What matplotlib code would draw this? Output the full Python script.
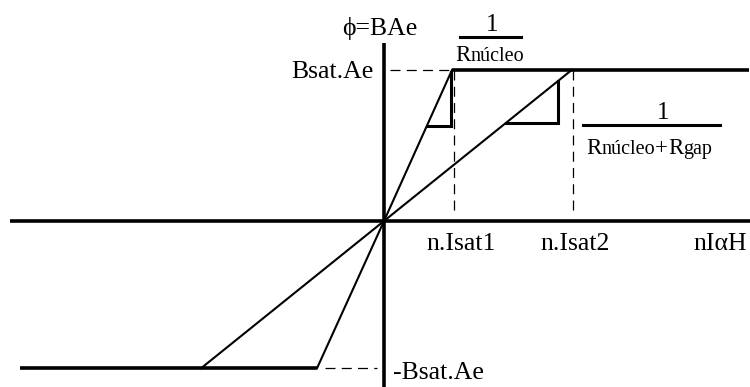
#!/usr/bin/env python3

"""
Curva de magnetizacion idealizada: nucleo sin gap vs nucleo con gap.
Flujo phi = B.Ae en funcion de la fuerza magnetomotriz n.I
"""

import matplotlib
matplotlib.use("Agg")
import matplotlib.pyplot as plt

# Valores normalizados (Isat1 = 1, Bsat.Ae = 1)
isat_pos = [1.0, 2.76]          # n.Isat1 (nucleo), n.Isat2 (nucleo + gap)
isat_neg = [-0.985, -2.69]      # codos en la rama negativa
bsat_pos = 1.0
bsat_neg = -0.975
h_min, h_max = -5.35, 5.37      # extremos de las rectas de saturacion

# Triangulos de pendiente: abscisa del cateto vertical y altura de la base
tri_x = [0.985, 2.56]
tri_base = [0.629, 0.649]

# Lineas de referencia punteadas
dash_x = [1.03, 2.78]

x_labels = ["n.Isat1", "n.Isat2"]

SERIF = ["Liberation Serif", "DejaVu Serif"]


def rich_text(fig, ax, x, y, parts):
    """Escribe varios trozos de texto seguidos, centrados en x, sobre la linea base y"""
    renderer = fig.canvas.get_renderer()
    texts = []
    widths = []
    for s, size in parts:
        t = ax.text(x, y, s, fontsize=size, family=SERIF, ha="left", va="baseline")
        widths.append(t.get_window_extent(renderer).width)
        texts.append(t)
    x0_disp, y_disp = ax.transData.transform((x, y))
    left = x0_disp - sum(widths) / 2
    inv = ax.transData.inverted()
    for t, w in zip(texts, widths):
        t.set_position(inv.transform((left, y_disp)))
        left += w


def main():
    fig = plt.figure(figsize=(7.5, 3.87), dpi=100)
    ax = fig.add_axes([0, 0, 1, 1])
    ax.set_xlim(-384 / 68, 366 / 68)
    ax.set_ylim(-166 / 151, 221 / 151)
    ax.axis("off")

    k = "black"

    # Ejes
    ax.plot([-5.5, 5.4], [0, 0], color=k, lw=2.6, solid_capstyle="butt")
    ax.plot([0, 0], [-1.2, 1.179], color=k, lw=2.6, solid_capstyle="butt")

    # Rectas de saturacion
    ax.plot([isat_pos[0], h_max], [bsat_pos, bsat_pos], color=k, lw=2.6,
            solid_capstyle="butt")
    ax.plot([h_min, isat_neg[0]], [bsat_neg, bsat_neg], color=k, lw=2.6,
            solid_capstyle="butt")

    # Zonas lineales (nucleo y nucleo + gap)
    for xp, xn in zip(isat_pos, isat_neg):
        ax.plot([xn, 0, xp], [bsat_neg, 0, bsat_pos], color=k, lw=1.5)

    # Triangulos que indican la pendiente
    for xp, xt, yb in zip(isat_pos, tri_x, tri_base):
        slope = bsat_pos / xp
        x0 = yb / slope
        ax.plot([x0, xt, xt], [yb, yb, xt * slope], color=k, lw=2.2,
                solid_joinstyle="miter")

    # Referencias punteadas
    dash_kw = dict(color=k, lw=0.9, dashes=(8, 5))
    for xd in dash_x:
        ax.plot([xd, xd], [bsat_pos, 0.053], **dash_kw)
    ax.plot([0.09, isat_pos[0]], [bsat_pos, bsat_pos], **dash_kw)
    ax.plot([-0.87, -0.10], [bsat_neg, bsat_neg], **dash_kw)

    # Textos de los ejes
    fs = 18.5
    ax.text(-0.06, 1.232, "ϕ=BAe", fontsize=fs, family=SERIF,
            ha="center", va="baseline")
    ax.text(-0.147, 0.947, "Bsat.Ae", fontsize=fs, family=SERIF,
            ha="right", va="baseline")
    ax.text(0.13, -1.046, "-Bsat.Ae", fontsize=fs, family=SERIF,
            ha="left", va="baseline")
    for xd, lab in zip([1.13, 2.81], x_labels):
        ax.text(xd, -0.192, lab, fontsize=fs, family=SERIF,
                ha="center", va="baseline")
    ax.text(4.94, -0.192, "nIαH", fontsize=fs, family=SERIF,
            ha="center", va="baseline")

    # Pendientes 1/R
    big, small = 16.5, 14.5
    ax.text(1.59, 1.258, "1", fontsize=18, family=SERIF,
            ha="center", va="baseline")
    ax.plot([1.12, 2.01], [1.219, 1.219], color=k, lw=2.2)
    rich_text(fig, ax, 1.56, 1.06, [("R", big), ("núcleo", small)])

    ax.text(4.10, 0.675, "1", fontsize=18, family=SERIF,
            ha="center", va="baseline")
    ax.plot([2.93, 4.94], [0.636, 0.636], color=k, lw=2.2)
    rich_text(fig, ax, 3.90, 0.444,
              [("R", big), ("núcleo", small), ("+", big), ("R", big),
               ("gap", small)])

    fig.savefig("out.png", dpi=100)


if __name__ == "__main__":
    main()
